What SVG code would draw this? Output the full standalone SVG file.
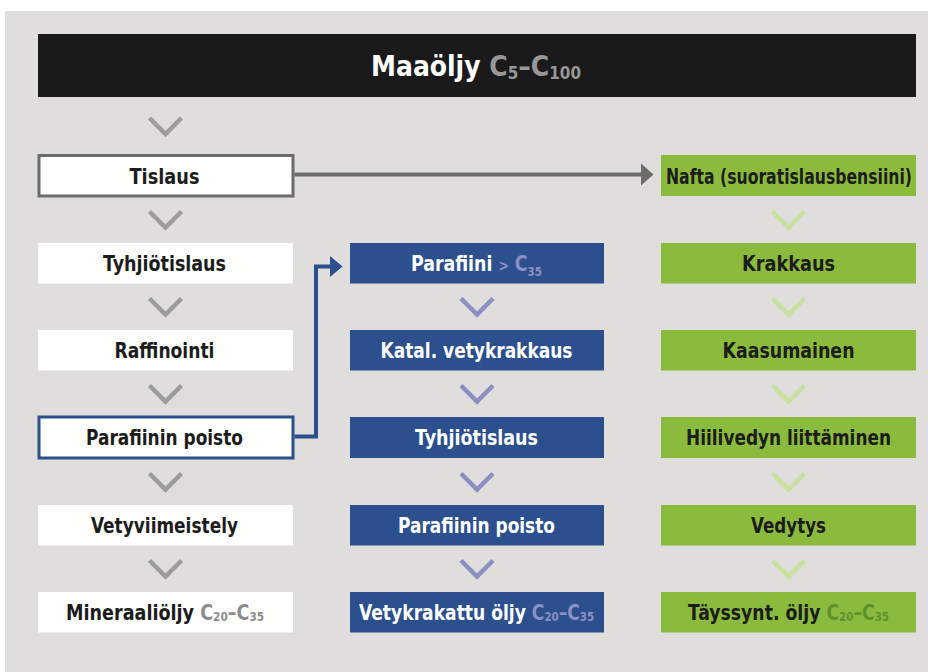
<svg xmlns="http://www.w3.org/2000/svg" width="928" height="672" viewBox="0 0 928 672">
<defs>
<style>
text{font-family:"DejaVu Sans Condensed","DejaVu Sans","Liberation Sans",sans-serif;font-stretch:condensed;font-weight:bold;font-size:21px;text-anchor:middle}
.dk{fill:#1c1c1c}
.wt{fill:#ffffff}
.sub{font-size:12.5px}
.g1{fill:#8c8c8c}
.g2{fill:#8d90c6}
.g3{fill:#5f9030}
.gt{fill:#989898}
.white{fill:#fefefc}
.blue{fill:#2c4f8e}
.green{fill:#8bbb3c}
.chev{fill:none;stroke-width:4.5;stroke-linejoin:miter}
.cg{stroke:#9c9c9a}
.cb{stroke:#8b8fc2}
.cgr{stroke:#c6e19e}
</style>
</defs>
<rect x="0" y="0" width="928" height="672" fill="#ffffff"/>
<rect x="5" y="11" width="923" height="661" fill="#dfdedc"/>

<g id="title">
<rect x="38" y="34" width="878" height="63" fill="#1a1a1a"/>
<text x="476" y="76" style="font-size:28px" textLength="210" lengthAdjust="spacingAndGlyphs"><tspan class="wt">Maaöljy </tspan><tspan class="gt">C<tspan style="font-size:17px" dy="3">5</tspan><tspan dy="-3">–C</tspan><tspan style="font-size:17px" dy="3">100</tspan></tspan></text>
</g>

<g id="chevrons">
<path class="chev cg" d="M149.5,118 L165.5,134 L181.5,118"/>
<path class="chev cg" d="M149.5,211.5 L165.5,227.5 L181.5,211.5"/>
<path class="chev cg" d="M149.5,298.5 L165.5,314.5 L181.5,298.5"/>
<path class="chev cg" d="M149.5,385.5 L165.5,401.5 L181.5,385.5"/>
<path class="chev cg" d="M149.5,473.5 L165.5,489.5 L181.5,473.5"/>
<path class="chev cg" d="M149.5,560.5 L165.5,576.5 L181.5,560.5"/>
<path class="chev cb" d="M461,298.5 L477,314.5 L493,298.5"/>
<path class="chev cb" d="M461,385.5 L477,401.5 L493,385.5"/>
<path class="chev cb" d="M461,473.5 L477,489.5 L493,473.5"/>
<path class="chev cb" d="M461,560.5 L477,576.5 L493,560.5"/>
<path class="chev cgr" d="M772.5,211.5 L788.5,227.5 L804.5,211.5"/>
<path class="chev cgr" d="M772.5,298.5 L788.5,314.5 L804.5,298.5"/>
<path class="chev cgr" d="M772.5,385.5 L788.5,401.5 L804.5,385.5"/>
<path class="chev cgr" d="M772.5,473.5 L788.5,489.5 L804.5,473.5"/>
<path class="chev cgr" d="M772.5,560.5 L788.5,576.5 L804.5,560.5"/>
</g>

<g id="connectors">
<line x1="294.5" y1="174.5" x2="642" y2="174.5" stroke="#6b6b69" stroke-width="4"/>
<polygon points="641,163.5 653.5,174.5 641,185.5" fill="#6b6b69"/>
<path d="M294.5,436.5 H316 V266.5 H331" fill="none" stroke="#2c4f8e" stroke-width="4" stroke-linejoin="miter"/>
<polygon points="330,256 342.5,266.5 330,277" fill="#2c4f8e"/>
</g>

<g id="tislaus">
<rect x="39" y="155.5" width="254" height="40.5" fill="#fefefc" stroke="#6b6b69" stroke-width="3"/>
<text class="dk" transform="translate(164.5,183.5) scale(0.938,1)" textLength="74.6" lengthAdjust="spacingAndGlyphs">Tislaus</text>
</g>
<g id="tyhjiotislaus1">
<rect class="white" x="38" y="243" width="255" height="40.5"/>
<text class="dk" transform="translate(164.5,271) scale(0.909,1)" textLength="135.3" lengthAdjust="spacingAndGlyphs">Tyhjiötislaus</text>
</g>
<g id="raffinointi">
<rect class="white" x="38" y="330" width="255" height="40.5"/>
<text class="dk" transform="translate(164.5,358) scale(0.892,1)" textLength="112.1" lengthAdjust="spacingAndGlyphs">Raffinointi</text>
</g>
<g id="parafiininpoisto1">
<rect x="39" y="417" width="254" height="41" fill="#fefefc" stroke="#2c4f8e" stroke-width="3"/>
<text class="dk" transform="translate(164.5,445) scale(0.891,1)" textLength="176.2" lengthAdjust="spacingAndGlyphs">Parafiinin poisto</text>
</g>
<g id="vetyviimeistely">
<rect class="white" x="38" y="505" width="255" height="40.5"/>
<text class="dk" transform="translate(164.5,533) scale(0.893,1)" textLength="164.6" lengthAdjust="spacingAndGlyphs">Vetyviimeistely</text>
</g>
<g id="mineraalioljy">
<rect class="white" x="38" y="592" width="255" height="40.5"/>
<text transform="translate(165,620) scale(0.93,1)" textLength="212.9" lengthAdjust="spacingAndGlyphs"><tspan class="dk">Mineraaliöljy </tspan><tspan class="g1">C<tspan class="sub" dy="1">20</tspan><tspan dy="-1">–C</tspan><tspan class="sub" dy="1">35</tspan></tspan></text>
</g>

<g id="parafiini">
<rect class="blue" x="350" y="243" width="254" height="40.5"/>
<text transform="translate(476.5,271) scale(0.91,1)" textLength="144" lengthAdjust="spacingAndGlyphs"><tspan class="wt">Parafiini </tspan><tspan class="g2"><tspan style="font-size:15px">&gt;</tspan> C<tspan class="sub" dy="5">35</tspan></tspan></text>
</g>
<g id="katal">
<rect class="blue" x="350" y="330" width="254" height="40.5"/>
<text class="wt" transform="translate(476.5,358) scale(0.901,1)" textLength="213.1" lengthAdjust="spacingAndGlyphs">Katal. vetykrakkaus</text>
</g>
<g id="tyhjiotislaus2">
<rect class="blue" x="350" y="417" width="254" height="41"/>
<text class="wt" transform="translate(476.5,445) scale(0.909,1)" textLength="135.3" lengthAdjust="spacingAndGlyphs">Tyhjiötislaus</text>
</g>
<g id="parafiininpoisto2">
<rect class="blue" x="350" y="505" width="254" height="40.5"/>
<text class="wt" transform="translate(476.5,533) scale(0.891,1)" textLength="176.2" lengthAdjust="spacingAndGlyphs">Parafiinin poisto</text>
</g>
<g id="vetykrakattu">
<rect class="blue" x="350" y="592" width="254" height="40.5"/>
<text transform="translate(476.5,620) scale(0.871,1)" textLength="269.8" lengthAdjust="spacingAndGlyphs"><tspan class="wt">Vetykrakattu öljy </tspan><tspan class="g2">C<tspan class="sub" dy="1">20</tspan><tspan dy="-1">–C</tspan><tspan class="sub" dy="1">35</tspan></tspan></text>
</g>

<g id="nafta">
<rect class="green" x="661" y="155" width="255" height="41"/>
<text class="dk" transform="translate(789,183.5) scale(0.811,1)" textLength="303.3" lengthAdjust="spacingAndGlyphs">Nafta (suoratislausbensiini)</text>
</g>
<g id="krakkaus">
<rect class="green" x="661" y="243" width="255" height="40.5"/>
<text class="dk" transform="translate(788.5,271) scale(0.936,1)" textLength="99.4" lengthAdjust="spacingAndGlyphs">Krakkaus</text>
</g>
<g id="kaasumainen">
<rect class="green" x="661" y="330" width="255" height="40.5"/>
<text class="dk" transform="translate(788.5,358) scale(0.92,1)" textLength="143.5" lengthAdjust="spacingAndGlyphs">Kaasumainen</text>
</g>
<g id="hiilivedyn">
<rect class="green" x="661" y="417" width="255" height="41"/>
<text class="dk" transform="translate(788.5,445) scale(0.895,1)" textLength="229" lengthAdjust="spacingAndGlyphs">Hiilivedyn liittäminen</text>
</g>
<g id="vedytys">
<rect class="green" x="661" y="505" width="255" height="40.5"/>
<text class="dk" transform="translate(788.5,533) scale(0.873,1)" textLength="85.9" lengthAdjust="spacingAndGlyphs">Vedytys</text>
</g>
<g id="tayssynt">
<rect class="green" x="661" y="592" width="255" height="40.5"/>
<text transform="translate(788.5,620) scale(0.903,1)" textLength="222.6" lengthAdjust="spacingAndGlyphs"><tspan class="dk">Täyssynt. öljy </tspan><tspan class="g3">C<tspan class="sub" dy="1">20</tspan><tspan dy="-1">–C</tspan><tspan class="sub" dy="1">35</tspan></tspan></text>
</g>
</svg>
